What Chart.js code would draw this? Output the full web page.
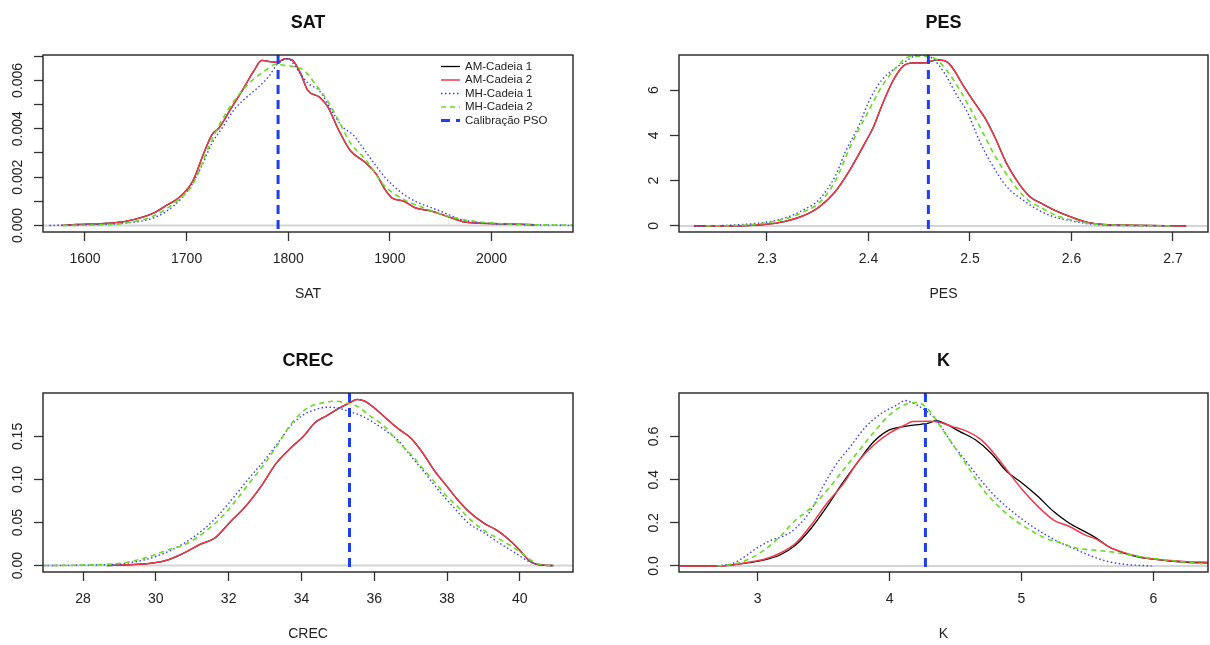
<!DOCTYPE html>
<html>
<head>
<meta charset="utf-8">
<title>Densidades a posteriori</title>
<script src="https://cdn.jsdelivr.net/npm/chart.js@4.4.1/dist/chart.umd.min.js"></script>
<style>
  html, body { margin: 0; padding: 0; background: #fff; overflow: hidden; }
  body { width: 1210px; height: 645px; position: relative; }
  .panel { position: absolute; }
  .panel canvas { display: block; }
</style>
</head>
<body>
<div class="panel"><canvas id="sat"></canvas></div>
<div class="panel"><canvas id="pes"></canvas></div>
<div class="panel"><canvas id="crec"></canvas></div>
<div class="panel"><canvas id="k"></canvas></div>
<script>
// chain names, same order in every panel
var seriesNames = ['AM-Cadeia 1', 'AM-Cadeia 2', 'MH-Cadeia 1', 'MH-Cadeia 2'];
var psoName = 'Calibração PSO';

// ---- SAT ----
var satXRange = [1558.7, 2080.2];
var satYRange = [-0.00027, 0.00705];
var satXTicks = [1600, 1700, 1800, 1900, 2000];
var satYTicks = [0, 0.001, 0.002, 0.003, 0.004, 0.005, 0.006, 0.007];
var satYLabels = ['0.000', '', '0.002', '', '0.004', '', '0.006', ''];
var satPSO = 1790;
var satAM2 = [[1577, 0], [1592, 0.00004], [1615, 0.00007], [1641, 0.00018], [1668, 0.00052], [1679, 0.0008],
  [1694, 0.00121], [1706, 0.00183], [1717, 0.003], [1725, 0.00376], [1732, 0.00404], [1743, 0.00479],
  [1755, 0.0056], [1766, 0.00638], [1774, 0.00683], [1781, 0.00678], [1789, 0.00675], [1797, 0.0069],
  [1804, 0.00684], [1812, 0.0063], [1819, 0.0056], [1831, 0.0053], [1839, 0.0049], [1849, 0.004],
  [1861, 0.0031], [1876, 0.0026], [1887, 0.0021], [1895, 0.0015], [1902, 0.00114], [1914, 0.001],
  [1925, 0.00073], [1940, 0.0006], [1955, 0.0004], [1974, 0.00014], [2000, 0.00008], [2043, 0.00003]];
// chain 1 coincides with chain 2 here and sits underneath it
var satAM1 = satAM2;
var satMH1 = [[1565, 0], [1600, 0.00003], [1640, 0.0001], [1668, 0.00032], [1687, 0.0008], [1702, 0.00149],
  [1713, 0.0023], [1725, 0.0034], [1736, 0.0041], [1747, 0.0048], [1759, 0.0053], [1770, 0.0057],
  [1781, 0.00617], [1789, 0.00665], [1800, 0.0069], [1808, 0.0065], [1819, 0.0059], [1831, 0.00555],
  [1842, 0.0048], [1853, 0.0041], [1865, 0.0037], [1872, 0.0033], [1884, 0.0026], [1895, 0.002],
  [1910, 0.0014], [1925, 0.001], [1940, 0.00075], [1955, 0.0005], [1970, 0.00025], [1990, 0.00011],
  [2040, 0.00003], [2080, 0]];
var satMH2 = [[1578, 0], [1610, 0.00002], [1640, 0.0001], [1668, 0.0004], [1690, 0.001], [1706, 0.0017],
  [1725, 0.00355], [1743, 0.00493], [1762, 0.0059], [1777, 0.0064], [1789, 0.00668], [1796, 0.00662],
  [1808, 0.00655], [1816, 0.0064], [1827, 0.00583], [1838, 0.0052], [1849, 0.00438], [1861, 0.00342],
  [1876, 0.00273], [1895, 0.00163], [1914, 0.00107], [1933, 0.00073], [1952, 0.00045], [1971, 0.00025],
  [2008, 0.00008], [2080, 0.00001]];

// ---- PES ----
var pesXRange = [2.2133, 2.7345];
var pesYRange = [-0.27, 7.55];
var pesXTicks = [2.3, 2.4, 2.5, 2.6, 2.7];
var pesYTicks = [0, 2, 4, 6];
var pesYLabels = ['0', '2', '4', '6'];
var pesPSO = 2.459;
var pesAM2 = [[2.228, 0], [2.263, 0], [2.297, 0.06], [2.317, 0.19], [2.336, 0.45], [2.351, 0.82],
  [2.367, 1.5], [2.382, 2.5], [2.397, 3.7], [2.405, 4.38], [2.413, 5.3], [2.424, 6.4], [2.434, 7.05],
  [2.444, 7.2], [2.455, 7.2], [2.467, 7.33], [2.475, 7.3], [2.482, 7.03], [2.494, 6.15], [2.505, 5.41],
  [2.515, 4.75], [2.525, 3.87], [2.536, 2.76], [2.548, 1.88], [2.559, 1.29], [2.571, 0.98], [2.582, 0.72],
  [2.598, 0.42], [2.617, 0.14], [2.636, 0.05], [2.652, 0.03], [2.713, 0]];
var pesAM1 = pesAM2;
var pesMH1 = [[2.228, 0], [2.263, 0.03], [2.297, 0.15], [2.317, 0.34], [2.336, 0.71], [2.351, 1.15],
  [2.367, 2.18], [2.378, 3.35], [2.39, 4.38], [2.401, 5.56], [2.413, 6.44], [2.424, 6.88], [2.436, 7.25],
  [2.448, 7.54], [2.455, 7.55], [2.463, 7.4], [2.475, 6.74], [2.486, 5.85], [2.498, 4.97], [2.509, 3.79],
  [2.521, 2.76], [2.536, 1.74], [2.552, 1.15], [2.567, 0.71], [2.582, 0.41], [2.598, 0.24], [2.617, 0.09],
  [2.636, 0.03], [2.7, 0]];
var pesMH2 = [[2.24, 0], [2.28, 0.04], [2.317, 0.3], [2.336, 0.62], [2.351, 1.0], [2.367, 1.96],
  [2.382, 3.5], [2.397, 4.82], [2.413, 6.15], [2.428, 7.03], [2.44, 7.47], [2.455, 7.5], [2.467, 7.35],
  [2.478, 6.81], [2.49, 6.0], [2.501, 5.12], [2.513, 4.09], [2.525, 3.06], [2.54, 2.03], [2.555, 1.22],
  [2.571, 0.78], [2.586, 0.44], [2.602, 0.24], [2.621, 0.09], [2.675, 0.01], [2.7, 0]];

// ---- CREC ----
var crecXRange = [26.9, 41.46];
var crecYRange = [-0.0075, 0.2005];
var crecXTicks = [28, 30, 32, 34, 36, 38, 40];
var crecYTicks = [0, 0.05, 0.1, 0.15];
var crecYLabels = ['0.00', '0.05', '0.10', '0.15'];
var crecPSO = 35.32;
var crecAM2 = [[28.67, 0], [29.19, 0.0008], [29.93, 0.003], [30.36, 0.007], [30.78, 0.0147], [31.2, 0.0244],
  [31.62, 0.032], [32.05, 0.051], [32.47, 0.069], [32.89, 0.092], [33.31, 0.119], [33.74, 0.138],
  [34.05, 0.15], [34.37, 0.166], [34.69, 0.174], [35.0, 0.182], [35.32, 0.189], [35.53, 0.193],
  [35.74, 0.191], [36.06, 0.181], [36.38, 0.169], [36.69, 0.158], [37.01, 0.148], [37.33, 0.131],
  [37.64, 0.111], [37.96, 0.094], [38.28, 0.077], [38.59, 0.063], [39.02, 0.049], [39.33, 0.042],
  [39.65, 0.032], [39.97, 0.019], [40.28, 0.005], [40.6, 0.0005], [40.92, 0]];
var crecAM1 = crecAM2;
var crecMH1 = [[26.92, 0], [28.88, 0.0015], [29.72, 0.007], [30.36, 0.0166], [30.78, 0.026], [31.31, 0.042],
  [31.73, 0.059], [32.15, 0.08], [32.57, 0.102], [33.0, 0.123], [33.31, 0.14], [33.74, 0.164],
  [34.05, 0.175], [34.37, 0.181], [34.69, 0.184], [35.0, 0.183], [35.32, 0.179], [35.64, 0.174],
  [35.95, 0.167], [36.27, 0.158], [36.69, 0.144], [37.01, 0.127], [37.33, 0.111], [37.64, 0.094],
  [37.96, 0.078], [38.28, 0.063], [38.59, 0.049], [39.02, 0.038], [39.44, 0.026], [39.86, 0.015],
  [40.28, 0.004], [40.6, 0.0004], [40.92, 0]];
var crecMH2 = [[26.92, 0], [28.88, 0.002], [29.72, 0.009], [30.36, 0.0186], [30.78, 0.024], [31.31, 0.038],
  [31.73, 0.053], [32.15, 0.073], [32.57, 0.096], [33.0, 0.119], [33.31, 0.138], [33.74, 0.166],
  [34.16, 0.183], [34.58, 0.189], [34.9, 0.191], [35.21, 0.189], [35.53, 0.185], [35.85, 0.175],
  [36.27, 0.162], [36.69, 0.142], [37.01, 0.129], [37.33, 0.113], [37.64, 0.098], [37.96, 0.082],
  [38.28, 0.069], [38.7, 0.051], [39.12, 0.038], [39.55, 0.028], [39.97, 0.017], [40.39, 0.004],
  [40.71, 0.0004], [40.92, 0]];

// ---- K ----
var kXRange = [2.404, 6.414];
var kYRange = [-0.028, 0.802];
var kXTicks = [3, 4, 5, 6];
var kYTicks = [0, 0.2, 0.4, 0.6];
var kYLabels = ['0.0', '0.2', '0.4', '0.6'];
var kPSO = 4.272;
var kAM1 = [[2.413, 0], [2.695, 0], [2.813, 0.005], [2.932, 0.015], [3.05, 0.028], [3.169, 0.051],
  [3.288, 0.097], [3.406, 0.175], [3.525, 0.275], [3.643, 0.384], [3.762, 0.484], [3.881, 0.577],
  [3.999, 0.631], [4.118, 0.647], [4.236, 0.657], [4.296, 0.662], [4.355, 0.674], [4.414, 0.662],
  [4.533, 0.623], [4.651, 0.585], [4.77, 0.523], [4.889, 0.438], [5.007, 0.384], [5.126, 0.322],
  [5.244, 0.252], [5.363, 0.198], [5.481, 0.159], [5.57, 0.128], [5.659, 0.09], [5.778, 0.059],
  [5.897, 0.04], [6.015, 0.031], [6.134, 0.023], [6.252, 0.017], [6.415, 0.014]];
var kAM2 = [[2.413, 0], [2.695, 0], [2.813, 0.005], [2.932, 0.017], [3.05, 0.031], [3.169, 0.059],
  [3.288, 0.105], [3.406, 0.19], [3.525, 0.291], [3.643, 0.376], [3.762, 0.484], [3.881, 0.561],
  [3.999, 0.616], [4.118, 0.654], [4.177, 0.67], [4.296, 0.671], [4.385, 0.665], [4.473, 0.647],
  [4.592, 0.623], [4.681, 0.592], [4.77, 0.538], [4.889, 0.445], [5.007, 0.353], [5.126, 0.275],
  [5.244, 0.213], [5.363, 0.183], [5.481, 0.144], [5.57, 0.124], [5.659, 0.09], [5.778, 0.062],
  [5.897, 0.043], [6.015, 0.031], [6.134, 0.025], [6.252, 0.02], [6.415, 0.017]];
var kMH1 = [[2.695, 0], [2.813, 0.012], [2.902, 0.043], [2.991, 0.082], [3.11, 0.121], [3.199, 0.139],
  [3.288, 0.175], [3.406, 0.26], [3.495, 0.368], [3.584, 0.461], [3.703, 0.554], [3.821, 0.647],
  [3.94, 0.708], [4.058, 0.747], [4.118, 0.767], [4.177, 0.755], [4.266, 0.724], [4.355, 0.677],
  [4.473, 0.569], [4.592, 0.476], [4.711, 0.384], [4.829, 0.306], [4.948, 0.244], [5.066, 0.19],
  [5.185, 0.144], [5.304, 0.105], [5.422, 0.074], [5.541, 0.043], [5.659, 0.02], [5.778, 0.008],
  [5.956, 0.001], [5.986, 0]];
var kMH2 = [[2.695, 0], [2.813, 0.008], [2.932, 0.031], [3.05, 0.074], [3.169, 0.136], [3.288, 0.213],
  [3.406, 0.27], [3.525, 0.35], [3.643, 0.44], [3.762, 0.53], [3.881, 0.62], [3.999, 0.7],
  [4.118, 0.748], [4.207, 0.758], [4.296, 0.724], [4.385, 0.647], [4.473, 0.569], [4.592, 0.461],
  [4.711, 0.353], [4.829, 0.275], [4.948, 0.213], [5.066, 0.167], [5.185, 0.128], [5.304, 0.105],
  [5.422, 0.082], [5.541, 0.074], [5.659, 0.067], [5.778, 0.056], [5.897, 0.043], [6.015, 0.034],
  [6.134, 0.025], [6.252, 0.017], [6.415, 0.009]];

// line look for each chain, then the PSO reference line
var chainStyles = [
  { color: '#000000', width: 1.3, dash: [] },
  { color: '#EE3B4B', width: 1.5, dash: [] },
  { color: '#3C3CF2', width: 1.4, dash: [1.5, 2.5] },
  { color: '#66DD22', width: 1.6, dash: [5, 4] }
];
var psoStyle = { color: '#1E3FF0', width: 3, dash: [9, 6] };

var FONT = '"Liberation Sans", Arial, sans-serif';
Chart.defaults.font.family = FONT;
Chart.defaults.color = '#222';

var PAGE_W = 1210;
var Y_AXIS_W = 43, TITLE_H = 55, X_AXIS_H = 90;

function toPoints(pairs) {
  return pairs.map(function(p) { return { x: p[0], y: p[1] }; });
}

function buildPanel(id, p) {
  var canvas = document.getElementById(id);
  var padRight = Math.min(32, PAGE_W - p.area.r);
  canvas.width = p.area.r - p.area.l + Y_AXIS_W + padRight;
  canvas.height = p.area.b - p.area.t + TITLE_H + X_AXIS_H;
  canvas.parentNode.style.left = (p.area.l - Y_AXIS_W) + 'px';
  canvas.parentNode.style.top = (p.area.t - TITLE_H) + 'px';

  var datasets = p.series.map(function(s, i) {
    var st = chainStyles[i];
    return {
      label: seriesNames[i],
      data: toPoints(s),
      borderColor: st.color,
      borderWidth: st.width,
      borderDash: st.dash,
      pointRadius: 0,
      cubicInterpolationMode: 'monotone',
      order: 10 - i
    };
  });
  datasets.push({
    label: psoName,
    data: [{ x: p.pso, y: p.yRange[1] }, { x: p.pso, y: p.yRange[0] }],
    borderColor: psoStyle.color,
    borderWidth: psoStyle.width,
    borderDash: psoStyle.dash,
    pointRadius: 0,
    tension: 0,
    order: 1
  });

  // light zero line under the curves, box frame on top
  var framePlugin = {
    id: 'frame',
    beforeDatasetsDraw: function(chart) {
      var a = chart.chartArea, ctx = chart.ctx;
      var y0 = chart.scales.y.getPixelForValue(0);
      ctx.save();
      ctx.strokeStyle = '#d2d6d6';
      ctx.lineWidth = 2;
      ctx.beginPath();
      ctx.moveTo(a.left, y0);
      ctx.lineTo(a.right, y0);
      ctx.stroke();
      ctx.restore();
    },
    afterDatasetsDraw: function(chart) {
      var a = chart.chartArea, ctx = chart.ctx;
      ctx.save();
      ctx.strokeStyle = '#222';
      ctx.lineWidth = 1.4;
      ctx.strokeRect(a.left, a.top, a.right - a.left, a.bottom - a.top);
      ctx.restore();
    }
  };

  // y tick labels run vertically, centred on their ticks
  var yLabelPlugin = {
    id: 'yLabels',
    afterDraw: function(chart) {
      var ys = chart.scales.y, ctx = chart.ctx;
      var x = chart.chartArea.left - 25;
      ctx.save();
      ctx.font = '14px ' + FONT;
      ctx.fillStyle = '#222';
      ctx.textAlign = 'center';
      ctx.textBaseline = 'middle';
      p.yTicks.forEach(function(v, i) {
        var txt = p.yLabels[i];
        if (!txt) return;
        ctx.save();
        ctx.translate(x, ys.getPixelForValue(v));
        ctx.rotate(-Math.PI / 2);
        ctx.fillText(txt, 0, 0);
        ctx.restore();
      });
      ctx.restore();
    }
  };

  var legendPlugin = {
    id: 'chainLegend',
    afterDraw: function(chart) {
      if (!p.legend) return;
      var a = chart.chartArea, ctx = chart.ctx;
      var x0 = a.right - 132, y0 = a.top + 11.5, step = 13.5, len = 19;
      ctx.save();
      ctx.font = '11.5px ' + FONT;
      ctx.textBaseline = 'middle';
      ctx.fillStyle = '#222';
      chart.data.datasets.forEach(function(ds, i) {
        var y = y0 + i * step;
        ctx.save();
        ctx.strokeStyle = ds.borderColor;
        ctx.lineWidth = ds.borderWidth;
        ctx.setLineDash(ds.borderDash);
        ctx.beginPath();
        ctx.moveTo(x0, y);
        ctx.lineTo(x0 + len, y);
        ctx.stroke();
        ctx.restore();
        ctx.fillText(ds.label, x0 + len + 5, y);
      });
      ctx.restore();
    }
  };

  var tickGrid = {
    display: true,
    drawOnChartArea: false,
    drawTicks: true,
    tickLength: 9,
    tickColor: '#333',
    tickWidth: 1.3
  };

  return new Chart(canvas, {
    type: 'line',
    data: { datasets: datasets },
    options: {
      responsive: false,
      animation: false,
      devicePixelRatio: 1,
      layout: { padding: { left: 0, right: padRight, top: 0, bottom: 0 } },
      plugins: {
        legend: { display: false },
        tooltip: { enabled: false },
        title: {
          display: true,
          text: p.title,
          fullSize: false,
          color: '#111',
          font: { size: 18, weight: 'bold' },
          padding: { top: 12, bottom: 21.4 }
        }
      },
      scales: {
        x: {
          type: 'linear',
          min: p.xRange[0],
          max: p.xRange[1],
          afterBuildTicks: function(s) { s.ticks = p.xTicks.map(function(v) { return { value: v }; }); },
          afterFit: function(s) { s.height = X_AXIS_H; },
          grid: tickGrid,
          border: { display: false },
          ticks: {
            color: '#222',
            font: { size: 14 },
            padding: 10,
            maxRotation: 0,
            autoSkip: false,
            callback: function(v) { return String(v); }
          },
          title: {
            display: true,
            text: p.title,
            color: '#222',
            font: { size: 14 },
            padding: { top: 0, bottom: 19 }
          }
        },
        y: {
          type: 'linear',
          min: p.yRange[0],
          max: p.yRange[1],
          afterBuildTicks: function(s) { s.ticks = p.yTicks.map(function(v) { return { value: v }; }); },
          afterFit: function(s) { s.width = Y_AXIS_W; },
          grid: tickGrid,
          border: { display: false },
          ticks: { display: false }
        }
      }
    },
    plugins: [framePlugin, yLabelPlugin, legendPlugin]
  });
}

buildPanel('sat', {
  title: 'SAT', area: { l: 43, r: 573, t: 55, b: 232 },
  xRange: satXRange, yRange: satYRange, xTicks: satXTicks, yTicks: satYTicks, yLabels: satYLabels,
  series: [satAM1, satAM2, satMH1, satMH2], pso: satPSO, legend: true
});
buildPanel('pes', {
  title: 'PES', area: { l: 679, r: 1208, t: 55, b: 232 },
  xRange: pesXRange, yRange: pesYRange, xTicks: pesXTicks, yTicks: pesYTicks, yLabels: pesYLabels,
  series: [pesAM1, pesAM2, pesMH1, pesMH2], pso: pesPSO
});
buildPanel('crec', {
  title: 'CREC', area: { l: 43, r: 573, t: 393, b: 572 },
  xRange: crecXRange, yRange: crecYRange, xTicks: crecXTicks, yTicks: crecYTicks, yLabels: crecYLabels,
  series: [crecAM1, crecAM2, crecMH1, crecMH2], pso: crecPSO
});
buildPanel('k', {
  title: 'K', area: { l: 679, r: 1208, t: 393, b: 572 },
  xRange: kXRange, yRange: kYRange, xTicks: kXTicks, yTicks: kYTicks, yLabels: kYLabels,
  series: [kAM1, kAM2, kMH1, kMH2], pso: kPSO
});
</script>
</body>
</html>
